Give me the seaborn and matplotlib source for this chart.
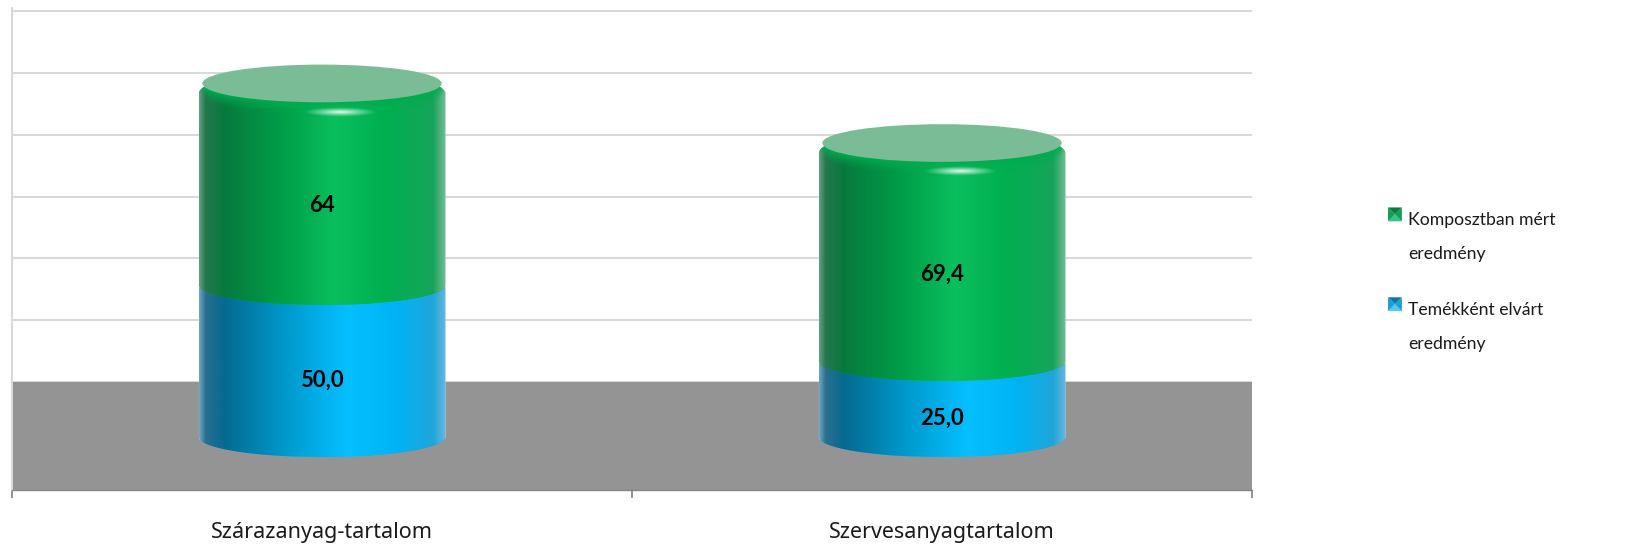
import numpy as np
import pandas as pd
import matplotlib
matplotlib.use('Agg')
import matplotlib.pyplot as plt
import seaborn as sns
from matplotlib.colors import LinearSegmentedColormap, to_rgb
from matplotlib.legend_handler import HandlerBase
from matplotlib.patches import Ellipse, Patch, Polygon
from matplotlib.path import Path
from matplotlib.ticker import FixedLocator

# =============================================
# Data
categories = ['Szárazanyag-tartalom', 'Szervesanyagtartalom']
expected = [50.0, 25.0]
measured = [64, 69.4]
expected_labels = ['50,0', '25,0']
measured_labels = ['64', '69,4']
legend_labels = ['Komposztban mért\neredmény', 'Temékként elvárt\neredmény']

# =============================================
# Plotting parameters
W, H = 1633, 547
PX_PER_UNIT = 3.04
BASE_PX = 437
LEFT_PX, RIGHT_PX, TOP_PX, BOTTOM_PX = 12, 1252, 8, 490
FLOOR_TOP = 18.1
GRID_STEP = 20.33
ELLIPSE_RY = 20 / PX_PER_UNIT

labelFontSize = 15.5
valueFontSize = 16
legendFontSize = 12.7

green_stops = [(0, '#5f9f7c'), (0.025, '#24774c'), (0.1, '#077a3e'), (0.35, '#00a049'),
               (0.55, '#0abf5e'), (0.75, '#00b050'), (0.95, '#17a45b'), (1, '#74bb94')]
blue_stops = [(0, '#6aa5c2'), (0.025, '#2a6f90'), (0.1, '#066a90'), (0.35, '#0099cc'),
              (0.6, '#05bfff'), (0.8, '#00b4f5'), (0.95, '#20a5d8'), (1, '#68b6dc')]
green_cmap = LinearSegmentedColormap.from_list('green_side', green_stops)
blue_cmap = LinearSegmentedColormap.from_list('blue_side', blue_stops)

sns.set_theme(style='white')
plt.rcParams['font.family'] = ['Lato', 'DejaVu Sans']


def cylinder_path(x, width, bottom, top):
    # side of a cylinder: elliptical bottom edge, rounded top edge
    cx, rx = x + width / 2, width / 2
    t = np.linspace(np.pi, 2 * np.pi, 60)
    low = np.column_stack([cx + rx * np.cos(t), bottom + ELLIPSE_RY * np.sin(t)])
    high = np.column_stack([cx + rx * np.cos(t[::-1]), top - 1.1 - (ELLIPSE_RY + 1.1) * np.sin(t[::-1])])
    return Path(np.vstack([low, high, low[:1]]))


class PillowHandler(HandlerBase):
    # small bevelled legend square, lined up with the first text line
    def __init__(self, dark, mid, light):
        super().__init__()
        self.shades = (dark, mid, light)

    def create_artists(self, legend, orig_handle, xdescent, ydescent, width, height, fontsize, trans):
        dark, mid, light = self.shades
        s = 10.0
        x0 = -xdescent
        y0 = -ydescent + 15.9
        c = (x0 + s / 2, y0 + s / 2)
        corners = [(x0, y0), (x0 + s, y0), (x0 + s, y0 + s), (x0, y0 + s)]
        colors = [light, mid, dark, mid]
        out = []
        for i in range(4):
            p = Polygon([corners[i], corners[(i + 1) % 4], c], closed=True, facecolor=colors[i],
                        edgecolor='none', transform=trans)
            out.append(p)
        return out


# ========================================================================
# Figure
df = pd.DataFrame({'category': categories, 'expected': expected, 'measured': measured})
df['total'] = df['expected'] + df['measured']

fig = plt.figure(figsize=(W / 100, H / 100), dpi=100)
ax = fig.add_axes([LEFT_PX / W, 1 - BOTTOM_PX / H, (RIGHT_PX - LEFT_PX) / W, (BOTTOM_PX - TOP_PX) / H])

sns.barplot(data=df, x='category', y='total', color='#00a651', saturation=1, width=0.398, ax=ax)
sns.barplot(data=df, x='category', y='expected', color='#00aeef', saturation=1, width=0.398, ax=ax)

ax.set_xlim(-0.5, 1.5)
ylim = ((BASE_PX - BOTTOM_PX) / PX_PER_UNIT, (BASE_PX - TOP_PX) / PX_PER_UNIT)

total_bars = ax.patches[:2]
expected_bars = ax.patches[2:4]

for i in range(2):
    tb, eb = total_bars[i], expected_bars[i]
    x, w = tb.get_x(), tb.get_width()
    cx = x + w / 2

    # blue lower part
    p_blue = cylinder_path(x, w, 0, eb.get_height())
    eb.set_zorder(3)
    eb.set_y(-ELLIPSE_RY)
    eb.set_height(expected[i] + ELLIPSE_RY)
    eb.set_clip_path(p_blue, ax.transData)
    im = ax.imshow(np.linspace(0, 1, 256)[None, :], cmap=blue_cmap, aspect='auto', zorder=3.1,
                   extent=(x, x + w, -ELLIPSE_RY, expected[i] + ELLIPSE_RY))
    im.set_clip_path(p_blue, ax.transData)

    # green upper part
    top = tb.get_height()
    p_green = cylinder_path(x, w, expected[i], top)
    tb.set_zorder(4)
    tb.set_y(expected[i] - ELLIPSE_RY)
    tb.set_height(measured[i] + 2.2 * ELLIPSE_RY)
    tb.set_clip_path(p_green, ax.transData)
    im = ax.imshow(np.linspace(0, 1, 256)[None, :], cmap=green_cmap, aspect='auto', zorder=4.1,
                   extent=(x, x + w, expected[i] - ELLIPSE_RY, top + 2.2 * ELLIPSE_RY))
    im.set_clip_path(p_green, ax.transData)

    # soft rim below the cap, fades out downwards
    ext = (x, x + w, top - 12, top + 10)
    gx = np.linspace(-1, 1, 300)
    gy = np.linspace(ext[3], ext[2], 120)
    arc = (top + 2.3) - 6.2 * np.sqrt(np.clip(1 - (gx / 0.97) ** 2, 0, 1))
    fade = np.clip((gy[:, None] - (arc - 4.5)) / 4.5, 0, 1) ** 1.4
    rgba = np.zeros((120, 300, 4))
    rgba[..., :3] = to_rgb('#00ac50')
    rgba[..., 3] = fade * np.clip((1 - np.abs(gx)) / 0.03, 0, 1) * 0.95
    im = ax.imshow(rgba, aspect='auto', zorder=4.2, extent=ext)
    im.set_clip_path(p_green, ax.transData)

    cap = Ellipse((cx, top + 2.3), w * 0.97, 2 * 6.2, facecolor='#7abc95', edgecolor='none', zorder=4.3)
    ax.add_patch(cap)

    # highlight under the cap
    hx = np.linspace(-1, 1, 80)
    hy = np.linspace(-1, 1, 20)
    rr = np.sqrt(hx[None, :] ** 2 + hy[:, None] ** 2)
    rgba = np.ones((20, 80, 4))
    rgba[..., 3] = np.clip(1 - rr, 0, 1) ** 1.1 * 0.9
    hw, hh = 0.06, 1.6
    hc = top - 7.0
    ax.imshow(rgba, aspect='auto', zorder=4.4, extent=(cx + 0.03 - hw, cx + 0.03 + hw, hc - hh, hc + hh))

    # value labels
    ax.text(i, expected[i] / 2 - 6.4, expected_labels[i], ha='center', va='center',
            fontsize=valueFontSize, fontweight='bold', color='black', zorder=6)
    ax.text(i, expected[i] + measured[i] / 2 - 6.0, measured_labels[i], ha='center', va='center',
            fontsize=valueFontSize, fontweight='bold', color='black', zorder=6)

# floor and grid
ax.axhspan(ylim[0], FLOOR_TOP, facecolor='#949494', edgecolor='none', zorder=1)
ax.set_yticks([FLOOR_TOP + GRID_STEP * k for k in range(7)])
ax.tick_params(axis='y', length=0, labelleft=False)
ax.yaxis.grid(True, color='#d9d9d9', linewidth=1.5, zorder=0.5)
ax.set_axisbelow(True)
ax.set_ylabel('')
ax.set_xlabel('')
ax.set_ylim(*ylim)
ax.set_xlim(-0.5, 1.5)

# axis
ax.xaxis.set_minor_locator(FixedLocator([-0.5, 0.5, 1.5]))
ax.tick_params(axis='x', which='minor', length=5.8, width=1.2, color='#808080', bottom=True)
ax.tick_params(axis='x', which='major', length=0, pad=23, labelsize=labelFontSize, labelcolor='#1a1a1a')
for lab in ax.get_xticklabels():
    lab.set_family(['Noto Sans', 'DejaVu Sans'])
for side in ['top', 'right']:
    ax.spines[side].set_visible(False)
ax.spines['left'].set_color('#d9d9d9')
ax.spines['left'].set_linewidth(1.5)
ax.spines['bottom'].set_color('#868686')
ax.spines['bottom'].set_linewidth(1)

# legend
h_green = Patch(label=legend_labels[0])
h_blue = Patch(label=legend_labels[1])
leg = fig.legend(handles=[h_green, h_blue], labels=legend_labels, frameon=False,
                 loc='upper left', bbox_to_anchor=(1388 / W, 1 - 212 / H), borderpad=0, borderaxespad=0,
                 fontsize=legendFontSize, handlelength=1.0, handletextpad=0.13, labelspacing=2.27,
                 handler_map={h_green: PillowHandler('#0a7a3e', '#0fa055', '#39c47f'),
                              h_blue: PillowHandler('#0a78a8', '#1aa0d8', '#5cc8f0')})
for t in leg.get_texts():
    t.set_linespacing(2.37)
    t.set_color('#1a1a1a')

fig.savefig('out.png', dpi=100)
